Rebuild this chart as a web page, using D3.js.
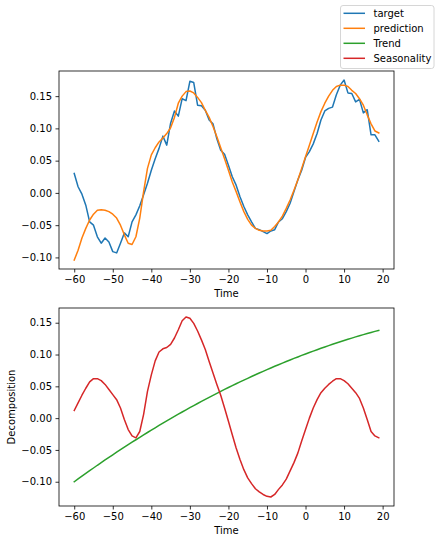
<!DOCTYPE html>
<html><head><meta charset="utf-8">
<script src="https://cdn.jsdelivr.net/npm/d3@7"></script>
<style>body{margin:0;background:#fff} svg text{font-family:"DejaVu Sans",sans-serif;font-size:10px;fill:#000}</style>
</head><body><svg id="c" width="439" height="544"></svg>
<script>
const time = [-60,-59,-58,-57,-56,-55,-54,-53,-52,-51,-50,-49,-48,-47,-46,-45,-44,-43,-42,-41,
  -40,-39,-38,-37,-36,-35,-34,-33,-32,-31,-30,-29,-28,-27,-26,-25,-24,-23,-22,-21,
  -20,-19,-18,-17,-16,-15,-14,-13,-12,-11,-10,-9,-8,-7,-6,-5,-4,-3,-2,-1,
  0,1,2,3,4,5,6,7,8,9,10,11,12,13,14,15,16,17,18,19];
const target = [0.030,0.0095,-0.002,-0.019,-0.045,-0.050,-0.068,-0.078,-0.070,-0.076,
  -0.091,-0.093,-0.078,-0.062,-0.068,-0.045,-0.034,-0.020,-0.003,0.015,
  0.035,0.053,0.069,0.088,0.074,0.108,0.127,0.119,0.146,0.143,
  0.173,0.171,0.136,0.135,0.128,0.113,0.107,0.084,0.066,0.060,
  0.043,0.025,0.012,-0.006,-0.021,-0.034,-0.045,-0.055,-0.057,-0.060,
  -0.063,-0.059,-0.057,-0.045,-0.040,-0.029,-0.016,0.002,0.020,0.035,
  0.055,0.064,0.076,0.092,0.113,0.127,0.131,0.133,0.152,0.167,
  0.175,0.155,0.154,0.141,0.145,0.124,0.129,0.090,0.090,0.080];
const prediction = [-0.104,-0.089,-0.070,-0.055,-0.042,-0.033,-0.027,-0.026,-0.027,-0.029,
  -0.033,-0.039,-0.050,-0.065,-0.078,-0.080,-0.068,-0.039,0.002,0.038,
  0.059,0.070,0.079,0.085,0.092,0.101,0.117,0.139,0.150,0.157,
  0.158,0.155,0.148,0.140,0.128,0.117,0.103,0.087,0.070,0.053,
  0.035,0.017,0.002,-0.014,-0.029,-0.041,-0.050,-0.055,-0.058,-0.059,
  -0.059,-0.058,-0.052,-0.045,-0.036,-0.024,-0.011,0.004,0.020,0.038,
  0.056,0.074,0.092,0.110,0.126,0.139,0.150,0.159,0.165,0.167,
  0.167,0.165,0.159,0.154,0.146,0.136,0.121,0.107,0.096,0.093];
const trend = [-0.1000,-0.0956,-0.0912,-0.0869,-0.0826,-0.0784,-0.0741,-0.0700,-0.0658,-0.0617,
  -0.0577,-0.0536,-0.0496,-0.0457,-0.0417,-0.0378,-0.0340,-0.0301,-0.0264,-0.0226,
  -0.0189,-0.0152,-0.0115,-0.0079,-0.0044,-0.0008,0.0027,0.0062,0.0096,0.0130,
  0.0164,0.0197,0.0230,0.0263,0.0295,0.0327,0.0358,0.0389,0.0420,0.0451,
  0.0481,0.0511,0.0540,0.0569,0.0598,0.0626,0.0654,0.0682,0.0709,0.0736,
  0.0763,0.0789,0.0815,0.0840,0.0865,0.0890,0.0915,0.0939,0.0962,0.0986,
  0.1009,0.1032,0.1054,0.1076,0.1098,0.1119,0.1140,0.1161,0.1181,0.1201,
  0.1220,0.1239,0.1258,0.1277,0.1295,0.1313,0.1330,0.1347,0.1364,0.1380];
const seasonality = [0.012,0.024,0.036,0.047,0.057,0.062,0.062,0.059,0.053,0.045,
  0.037,0.029,0.016,-0.002,-0.018,-0.028,-0.031,-0.021,0.006,0.042,
  0.068,0.090,0.104,0.109,0.111,0.116,0.126,0.139,0.153,0.159,
  0.157,0.149,0.137,0.123,0.108,0.089,0.071,0.053,0.036,0.016,
  -0.005,-0.026,-0.047,-0.065,-0.081,-0.094,-0.103,-0.111,-0.116,-0.120,
  -0.123,-0.124,-0.120,-0.112,-0.105,-0.096,-0.083,-0.070,-0.055,-0.036,
  -0.018,0.000,0.016,0.029,0.040,0.047,0.053,0.058,0.062,0.062,
  0.059,0.054,0.047,0.040,0.031,0.016,-0.002,-0.021,-0.028,-0.031];
const xTicks = [-60,-50,-40,-30,-20,-10,0,10,20];
const yTicks = [-0.10,-0.05,0.00,0.05,0.10,0.15];
const legendLabels = ["target","prediction","Trend","Seasonality"];
const colors = ["#1f77b4","#ff7f0e","#2ca02c","#d62728"];

const svg = d3.select("#c");
const L = 59, R = 394;
const fmtX = d => d3.format("d")(d).replace("-", "\u2212");
const fmtY = d => d3.format(".2f")(d).replace("-", "\u2212");

function pad(ext){ const r = ext[1]-ext[0]; return [ext[0]-0.05*r, ext[1]+0.05*r]; }
const x = d3.scaleLinear().domain(pad(d3.extent(time))).range([L, R]);

function panel(top, bottom, series, ylabel){
  const all = series.flatMap(s => s.values);
  const y = d3.scaleLinear().domain(pad(d3.extent(all))).range([bottom, top]);
  const g = svg.append("g");
  const line = d3.line().x((d,i) => x(time[i])).y(d => y(d));
  series.forEach(s => {
    g.append("path").attr("d", line(s.values)).attr("fill","none")
      .attr("stroke", s.color).attr("stroke-width",1.5)
      .attr("stroke-linejoin","round").attr("stroke-linecap","square");
  });
  g.append("rect").attr("x",L).attr("y",top).attr("width",R-L).attr("height",bottom-top)
    .attr("fill","none").attr("stroke","#000").attr("stroke-width",0.8);
  const xa = d3.axisBottom(x).tickValues(xTicks).tickFormat(fmtX).tickSizeInner(3.5).tickSizeOuter(0).tickPadding(3.5);
  const gx = g.append("g").attr("transform",`translate(0,${bottom})`).call(xa);
  const ya = d3.axisLeft(y).tickValues(yTicks).tickFormat(fmtY).tickSizeInner(3.5).tickSizeOuter(0).tickPadding(3.5);
  const gy = g.append("g").attr("transform",`translate(${L},0)`).call(ya);
  [gx, gy].forEach(a => {
    a.select(".domain").remove();
    a.selectAll(".tick line").attr("stroke","#000").attr("stroke-width",0.8);
    a.selectAll("text").attr("font-family","DejaVu Sans").attr("font-size",10).attr("fill","#000");
  });
  g.append("text").attr("x",(L+R)/2).attr("y",bottom+24).attr("dy","0.35em")
    .attr("text-anchor","middle").text("Time");
  if (ylabel) {
    g.append("text").attr("transform",`translate(11,${(top+bottom)/2}) rotate(-90)`)
      .attr("dy","0.35em").attr("text-anchor","middle").text(ylabel);
  }
}

panel(71, 269, [
  {values: target, color: colors[0]},
  {values: prediction, color: colors[1]}
], null);
panel(308, 506, [
  {values: trend, color: colors[2]},
  {values: seasonality, color: colors[3]}
], "Decomposition");

// figure legend
const lg = svg.append("g");
lg.append("rect").attr("x",340.5).attr("y",5.5).attr("width",93.5).attr("height",63)
  .attr("rx",2.5).attr("fill","#fff").attr("fill-opacity",0.8)
  .attr("stroke","#cccccc").attr("stroke-width",0.8);
legendLabels.forEach((lab,i) => {
  const yy = 13.3 + i*15;
  lg.append("line").attr("x1",343.5).attr("x2",365).attr("y1",yy).attr("y2",yy)
    .attr("stroke",colors[i]).attr("stroke-width",1.5);
  lg.append("text").attr("x",373.5).attr("y",yy).attr("dy","0.35em").text(lab);
});
</script></body></html>
